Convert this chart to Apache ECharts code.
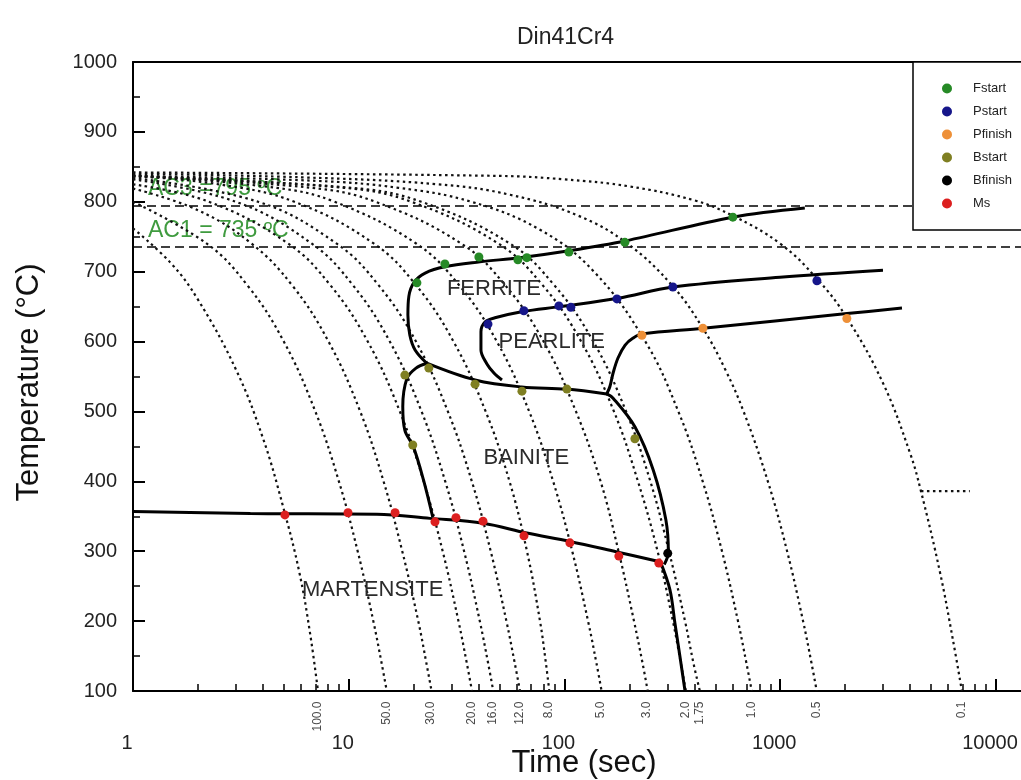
<!DOCTYPE html>
<html><head><meta charset="utf-8">
<script src="https://cdn.jsdelivr.net/npm/echarts@6/dist/echarts.min.js"></script>
<style>html,body{margin:0;padding:0;background:#fff}#c{width:1021px;height:780px}</style>
</head><body><div id="c"></div>
<script>
// ---------- data ----------
const chartTitle = 'Din41Cr4';
const xTickLabels = ['1', '10', '100', '1000', '10000'];
const yTickLabels = ['100', '200', '300', '400', '500', '600', '700', '800', '900', '1000'];
const rateLabels = ['100.0', '50.0', '30.0', '20.0', '16.0', '12.0', '8.0', '5.0', '3.0', '2.0', '1.75', '1.0', '0.5', '0.1'];

// cooling curves [time s, temperature °C]
const cool100 = [[1,762],[1.5,712],[2,660],[3,560],[4,462],[5,360],[5.9,270],[6.6,185],[7.2,100]];
const cool50 = [[1,800],[2.2,740],[3.4,680],[5,600],[7,500],[9,400],[11,300],[13,200],[14.2,140],[15,100]];
const cool30 = [[1,819],[2,788],[3.55,740],[5.48,680],[8.06,600],[11.3,500],[14.5,400],[17.7,300],[21,200],[22.9,140],[24.2,100]];
const cool20 = [[1,825],[2.25,800],[5.25,740],[8.25,680],[12.25,600],[17.25,500],[22.25,400],[27.25,300],[32.25,200],[35.25,140],[37.25,100]];
const cool16 = [[1,832],[3,800],[6.75,740],[10.5,680],[15.5,600],[21.75,500],[28,400],[34.25,300],[40.5,200],[44.25,140],[46.75,100]];
const cool12 = [[1,834],[3.8,800],[8.8,740],[13.8,680],[20.5,600],[28.8,500],[37.2,400],[45.5,300],[53.8,200],[58.8,140],[62.2,100]];
const cool8 = [[1,837],[2.5,825],[5.6,800],[13.1,740],[20.6,680],[30.6,600],[43.1,500],[55.6,400],[67,300],[77,200],[82,140],[85,100]];
const cool5 = [[1,838],[4.6,820],[8.6,800],[20.6,740],[32.6,680],[48.6,600],[68.6,500],[88.6,400],[108.6,300],[128.6,200],[140.6,140],[148.6,100]];
const cool3 = [[1,837],[6.7,820],[13.3,800],[33.3,740],[53.3,680],[80,600],[113,500],[147,400],[178,300],[210,200],[230,140],[243,100]];
const cool2 = [[1,837],[9.5,820],[19.5,800],[49.5,740],[79.5,680],[119.5,600],[169.5,500],[219,400],[270,300],[318,200],[346,140],[365,100]];
const cool175 = [[1,836],[10.3,820],[21.7,800],[56,740],[90,680],[136,600],[193,500],[250,400],[305,300],[362,200],[396,140],[424,100]];
const cool1 = [[1,837],[7,830],[17,820],[37,800],[77,760],[137,700],[237,600],[337,500],[437,400],[537,300],[637,200],[697,140],[738,100]];
const cool05 = [[1,840],[6,835],[26,825],[56,810],[116,780],[196,740],[316,680],[438,619],[556,560],[676,500],[876,400],[1076,300],[1276,200],[1396,140],[1476,100]];
const cool01 = [[1,842],[50,837],[100,832],[200,822],[400,802],[603,780],[1000,740],[1479,690],[2036,634],[3000,540],[4000,440],[4489,386],[5500,270],[6300,175],[6950,100]];
const coolingCurves = [cool100, cool50, cool30, cool20, cool16, cool12, cool8, cool5, cool3, cool2, cool175, cool1, cool05, cool01];
const spur = [[4489,386],[7560,386]];

// transformation boundaries
const ferriteStart = [[1300,791],[604,778],[191,744],[105,730],[62,720],[40.6,714],[27.9,707],[22.6,698],[20.1,685],[19.0,665],[18.8,638],[19.2,609],[20.3,588],[23,569]];
const pearliteStart = [[2994,702],[997,692],[318,678],[177,662],[95.3,650],[64.2,643],[47.6,634],[42.8,628],[41,614],[41,588],[43.7,568],[47.1,555],[51.3,545]];
const pearliteFinish = [[3667,648],[2039,640],[439,619],[229,611],[208,605],[191,595],[177,576.5],[168,555],[162.5,536],[157,525]];
const bainiteTop = [[23,569],[38.5,545],[63.3,535],[102,532],[157,525]];
const bainiteLeft = [[23,569],[20.5,562],[18.6,547],[17.8,507],[18.2,473],[19.9,450],[22.2,402],[24.5,349]];
const bainiteFinish = [[157,525],[168,519],[212,478],[258,416],[295,345],[303,298],[290,281]];
const msLine = [[1,357],[3.5,354],[13.5,353],[23.8,347],[42,340],[66.8,326],[106,314],[175,299],[277,285]];
const finishDown = [[279,284],[308,245],[325,197],[343,149],[362,100]];

// measured points
const fStart = [[20.7,684],[27.9,711],[40.1,721],[60.8,717],[66.9,720],[104.8,728],[190.5,742],[603,778]];
const pStart = [[44.2,625],[64.8,644],[94.2,651],[107,649],[175,661],[318,678],[1479,687]];
const pFinish = [[228.5,609],[438,619],[2036,633]];
const bStart = [[18.2,552],[19.8,452],[23.5,562],[38.5,539],[63.5,529],[102.6,532],[212,461]];
const bFinish = [[301,297]];
const msPts = [[5.06,352],[9.92,355],[16.4,355],[25.1,342],[31.4,348],[41.9,343],[64.9,322],[105.9,312],[178.6,293],[273.7,283]];

const pointSets = [
  {name: 'Fstart', data: fStart, color: '#268a26'},
  {name: 'Pstart', data: pStart, color: '#16168a'},
  {name: 'Pfinish', data: pFinish, color: '#ee9038'},
  {name: 'Bstart', data: bStart, color: '#7f7f22'},
  {name: 'Bfinish', data: bFinish, color: '#000000'},
  {name: 'Ms', data: msPts, color: '#dc1f1f'}
];

const acLines = [{temp: 795, text: 'AC3 =795 ºC'}, {temp: 735, text: 'AC1 = 735 ºC'}];
const regionNames = ['FERRITE', 'PEARLITE', 'BAINITE', 'MARTENSITE'];
const regionAt = [[47.1,675], [87.3,600], [66.5,433], [12.9,244]];

// ---------- chart ----------
const FONT = '"Liberation Sans", Arial, Helvetica, sans-serif';
const chart = echarts.init(document.getElementById('c'));
const dotted = {color: '#111', width: 2.2, type: [2.5, 3.5]};
const solid = {color: '#000', width: 3};

const series = [];
coolingCurves.forEach((d, i) => series.push({
  type: 'line', name: 'cool' + rateLabels[i], data: d, symbol: 'none', smooth: 0.4,
  lineStyle: dotted, silent: true, z: 2
}));
series.push({
  type: 'line', name: 'spur', data: spur, symbol: 'none', lineStyle: dotted, silent: true, z: 2,
  markLine: {
    silent: true, symbol: ['none', 'none'], z: 2,
    lineStyle: {color: '#000', width: 1.5, type: [9, 5]},
    label: {position: 'insideStartTop', distance: [15, 5], color: '#3f9b3f', fontSize: 23, fontFamily: FONT},
    data: acLines.map(a => ({yAxis: a.temp, label: {formatter: a.text}}))
  }
});
[ferriteStart, pearliteStart, pearliteFinish, bainiteTop, bainiteLeft, bainiteFinish, msLine, finishDown].forEach((d, i) => series.push({
  type: 'line', name: 'b' + i, data: d, symbol: 'none', smooth: 0.35, lineStyle: solid, silent: true, z: 3
}));
pointSets.forEach(p => series.push({
  type: 'scatter', name: p.name, data: p.data, symbol: 'circle', symbolSize: 9,
  itemStyle: {color: p.color, opacity: 1}, silent: true, z: 5
}));
series.push({
  type: 'scatter', name: 'rates', clip: false, silent: true, symbolSize: 1,
  itemStyle: {color: 'rgba(0,0,0,0)', opacity: 1},
  data: coolingCurves.map((c, i) => ({value: c[c.length - 1], name: rateLabels[i]})),
  label: {show: true, formatter: '{b}', position: [0, 11], align: 'right', verticalAlign: 'middle',
          rotate: 90, fontSize: 12, color: '#4a4a4a', fontFamily: FONT}
});
series.push({
  type: 'scatter', name: 'regions', clip: false, silent: true, symbolSize: 1,
  itemStyle: {color: 'rgba(0,0,0,0)', opacity: 1},
  data: regionNames.map((n, i) => ({value: regionAt[i], name: n})),
  label: {show: true, formatter: '{b}', position: 'inside', align: 'center', verticalAlign: 'middle',
          fontSize: 22, color: '#2b2b2b', fontFamily: FONT}
});

chart.setOption({
  animation: false,
  backgroundColor: '#fff',
  textStyle: {fontFamily: FONT},
  title: {text: chartTitle, left: 512, top: 21, textStyle: {fontSize: 23, fontWeight: 'normal', color: '#222', fontFamily: FONT}},
  legend: {
    data: pointSets.map(p => p.name), orient: 'vertical', left: 913, top: 62, z: 20, zlevel: 0,
    padding: [20, 60, 20, 29], itemGap: 10, itemWidth: 42, itemHeight: 10, icon: 'circle',
    backgroundColor: '#fff', borderColor: '#000', borderWidth: 1.5, selectedMode: false,
    textStyle: {fontSize: 13, color: '#222', fontFamily: FONT}
  },
  grid: [
    {left: 133, right: 0, top: 62, bottom: 89, outerBoundsMode: 'none', containLabel: false},
    {left: 133, right: 25, top: 62, bottom: 89, outerBoundsMode: 'none', containLabel: false}
  ],
  xAxis: [
    {gridIndex: 0, type: 'log', logBase: 10, min: 1, max: 13060,
     axisLine: {show: true, lineStyle: {color: '#000', width: 2}}, axisTick: {show: false},
     axisLabel: {show: false}, splitLine: {show: false}, minorTick: {show: false},
     name: 'Time (sec)', nameLocation: 'middle', nameGap: 57,
     nameTextStyle: {fontSize: 31, color: '#111', fontFamily: FONT, padding: [0, 0, 0, 14]}},
    {gridIndex: 1, type: 'log', logBase: 10, min: 1, max: 10000,
     axisLine: {show: false},
     axisTick: {show: true, inside: true, length: 12, lineStyle: {color: '#000', width: 2}},
     minorTick: {show: true, splitNumber: 9, length: 7, lineStyle: {color: '#000', width: 1.5}},
     axisLabel: {show: true, margin: 42, fontSize: 20, color: '#222', fontFamily: FONT, padding: [0, 12, 0, 0],
                 formatter: (v, i) => xTickLabels[i]},
     splitLine: {show: false}},
    {gridIndex: 0, type: 'log', position: 'top', min: 1, max: 13060,
     axisLine: {show: true, lineStyle: {color: '#000', width: 2}}, axisTick: {show: false},
     axisLabel: {show: false}, splitLine: {show: false}}
  ],
  yAxis: [
    {gridIndex: 0, type: 'value', min: 100, max: 1000, interval: 100,
     axisLine: {show: true, lineStyle: {color: '#000', width: 2}},
     axisTick: {show: true, inside: true, length: 12, lineStyle: {color: '#000', width: 2}},
     minorTick: {show: true, splitNumber: 2, length: 7, lineStyle: {color: '#000', width: 1.5}},
     axisLabel: {margin: 16, fontSize: 20, color: '#222', fontFamily: FONT, formatter: (v, i) => yTickLabels[i]},
     splitLine: {show: false},
     name: 'Temperature (°C)', nameLocation: 'middle', nameGap: 88,
     nameTextStyle: {fontSize: 31, color: '#111', fontFamily: FONT, padding: [0, 12, 0, 0]}},
    {gridIndex: 1, type: 'value', min: 100, max: 1000, show: false}
  ],
  series: series
});
</script></body></html>
